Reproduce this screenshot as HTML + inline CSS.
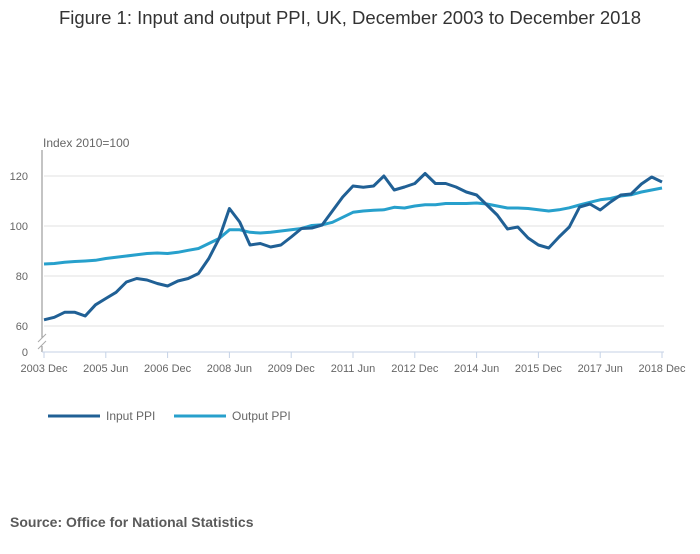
<!DOCTYPE html>
<html><head><meta charset="utf-8"><style>
body{margin:0;background:#fff;font-family:"Liberation Sans",sans-serif}
svg text{font-family:"Liberation Sans",sans-serif}
</style></head><body>
<svg width="700" height="549" viewBox="0 0 700 549" id="chart">
<text x="350" y="24" text-anchor="middle" font-size="18.5" fill="#333">Figure 1: Input and output PPI, UK, December 2003 to December 2018</text>
<text x="43" y="147" font-size="12" fill="#666">Index 2010=100</text>
<g id="grid"></g>
<g id="yticks"></g>
<g id="xaxis"></g>
<g id="series"></g>
<g>
<g><line x1="48" y1="416" x2="100" y2="416" stroke="#206095" stroke-width="3"/><text x="106" y="420" font-size="12" fill="#666">Input PPI</text></g>
<g><line x1="174" y1="416" x2="226" y2="416" stroke="#27a0cc" stroke-width="3"/><text x="232" y="420" font-size="12" fill="#666">Output PPI</text></g>
</g>
<text x="10" y="527" font-size="14" font-weight="bold" fill="#5a5a5a">Source: Office for National Statistics</text>
</svg>
<script>
const yTicks=[60,80,100,120];
const xTickLabels=["2003 Dec","2005 Jun","2006 Dec","2008 Jun","2009 Dec","2011 Jun","2012 Dec","2014 Jun","2015 Dec","2017 Jun","2018 Dec"];
const inputPPI=[62.5,63.5,65.5,65.5,64,68.5,71,73.5,77.6,79,78.4,77,76,78,79,81,87,95,107,101.6,92.4,93,91.6,92.4,95.6,99,99.2,100.4,106,111.6,116,115.5,116,120,114.4,115.6,117,121,117,117,115.6,113.6,112.4,108.4,104.4,98.8,99.6,95.2,92.4,91.2,95.6,99.6,107.6,108.8,106.4,109.6,112.4,112.8,116.8,119.6,117.6];
const outputPPI=[84.8,85,85.5,85.8,86,86.3,87,87.5,88,88.5,89,89.2,89,89.5,90.3,91,93,95,98.5,98.5,97.5,97.2,97.5,98,98.5,99,100.2,100.5,101.5,103.5,105.5,106,106.3,106.5,107.5,107.2,108,108.5,108.5,109,109,109,109.2,108.8,108,107.2,107.2,107,106.5,106,106.5,107.3,108.4,109.5,110.5,111,112,112.5,113.6,114.4,115.2];
const NS="http://www.w3.org/2000/svg";
const x0=44,x1=662;
function xScale(i,n){return x0+(x1-x0)*i/(n-1);}
function yScale(v){return 326-(v-60)*2.5;}
function mk(tag,attrs,parent){const e=document.createElementNS(NS,tag);for(const k in attrs)e.setAttribute(k,attrs[k]);parent.appendChild(e);return e;}
const grid=document.getElementById('grid'),yt=document.getElementById('yticks'),xa=document.getElementById('xaxis'),ser=document.getElementById('series');
yTicks.forEach(v=>{
  const l=mk('line',{x1:x0,x2:664,y1:yScale(v),y2:yScale(v),stroke:'#e0e0e0','stroke-width':1},grid);
  
  
  const t=mk('text',{x:28,y:yScale(v)+4,'font-size':11,fill:'#666','text-anchor':'end'},yt);
  t.textContent=v;
  
  
});
const z=mk('text',{x:28,y:356,'font-size':11,fill:'#666','text-anchor':'end'},yt);z.textContent='0';


mk('line',{x1:42,y1:150,x2:42,y2:338,stroke:'#888','stroke-width':1},yt);
mk('line',{x1:42,y1:346,x2:42,y2:352,stroke:'#888','stroke-width':1},yt);
mk('line',{x1:38,y1:342,x2:46,y2:334,stroke:'#aaa','stroke-width':1},yt);
mk('line',{x1:38,y1:349,x2:46,y2:341,stroke:'#aaa','stroke-width':1},yt);
mk('line',{x1:42,y1:352,x2:664,y2:352,stroke:'#c5d2e6','stroke-width':1},xa);
xTickLabels.forEach((lab,i)=>{
  const x=xScale(i,xTickLabels.length);
  mk('line',{x1:x,x2:x,y1:352,y2:358,stroke:'#c5d2e6','stroke-width':1},xa);
  const t=mk('text',{x:x,y:372,'font-size':11,fill:'#666','text-anchor':'middle'},xa);
  t.textContent=lab;
  
  
});
function line(data,color,name){
  const d=data.map((v,i)=>(i?'L':'M')+xScale(i,data.length).toFixed(1)+','+yScale(v).toFixed(1)).join('');
  const p=mk('path',{d:d,fill:'none',stroke:color,'stroke-width':3,'stroke-linejoin':'round'},ser);
  
  
}
line(outputPPI,'#27a0cc','output-ppi-line');
line(inputPPI,'#206095','input-ppi-line');
</script>
</body></html>
